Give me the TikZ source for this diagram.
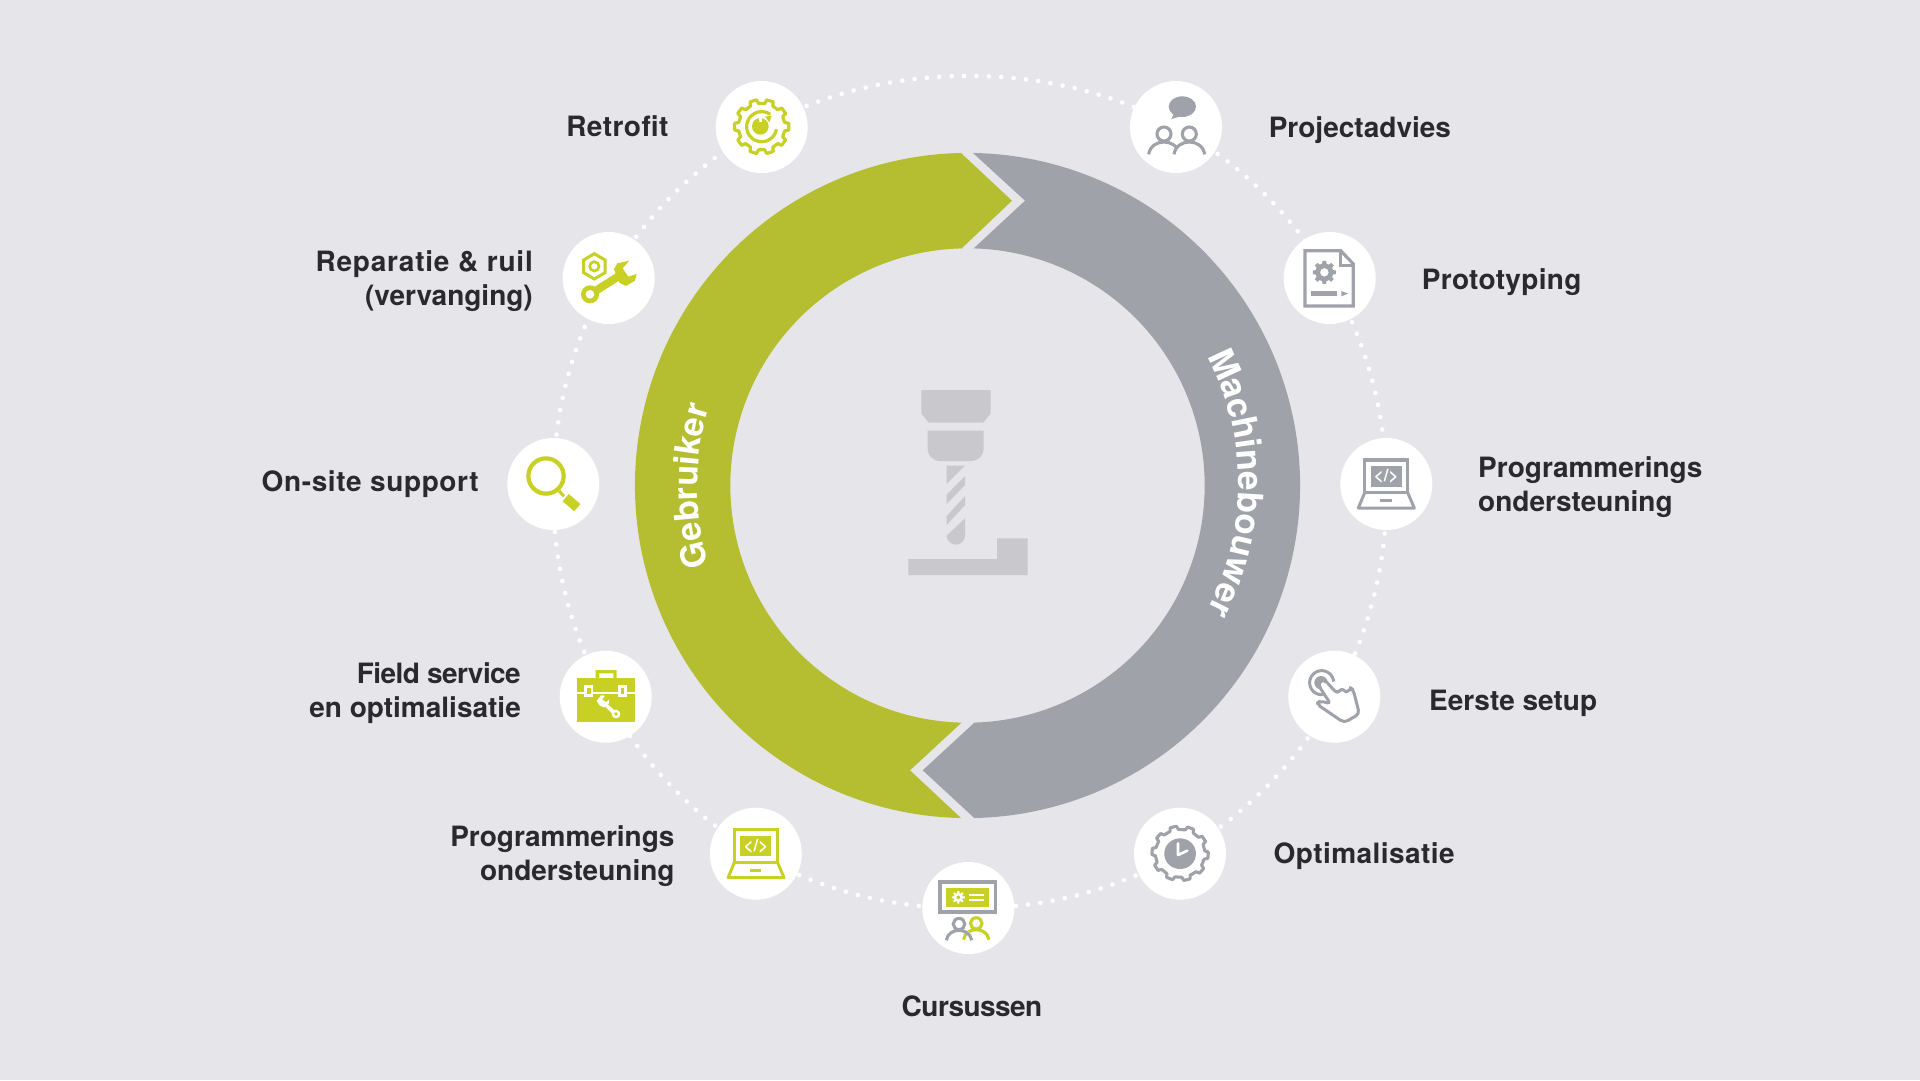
\documentclass[tikz,border=0pt]{standalone}
\usepackage{fontspec}
\setmainfont{TeX Gyre Heros}
\usetikzlibrary{decorations.text}
\definecolor{bgc}{HTML}{E6E6EA}
\definecolor{ringg}{HTML}{B5BD30}
\definecolor{ringy}{HTML}{A0A2AA}
\definecolor{icg}{HTML}{C8D024}
\definecolor{icy}{HTML}{A0A2AA}
\definecolor{mill}{HTML}{C9C9CD}
\definecolor{txt}{HTML}{2A2A2C}
\pgfdeclarelayer{bg}
\pgfsetlayers{bg,main}
\newcommand{\ls}[2]{{\addfontfeature{LetterSpace=#1}#2}}
\tikzset{
  x=1pt,y=-1pt,
  disc/.style={circle,fill=white,minimum size=92pt,inner sep=0pt},
  lab/.style={font=\fontsize{28}{34}\selectfont\bfseries,text=txt,inner sep=0pt},
  dots/.style={white,line width=4.6pt,line cap=round,dash pattern=on 0pt off 12.4pt,looseness=0.87},
  za/.style={shift={(#1)},scale=1/3},
  ln/.style={line width=3.2pt,line join=miter,fill=none},
  code/.style={font=\fontsize{17}{17}\selectfont\bfseries,text=white,inner sep=0pt},
}
\newcommand{\laptop}[1]{% colour; local coordinates of the right-hand laptop
  \draw[#1,ln] (284,120) rectangle (413,218);
  \fill[#1] (302,138) rectangle (395,200);
  \draw[#1,line width=3pt,line join=round] (284,218) -- (265,264) -- (433,264) -- (413,218);
  \fill[#1] (330,237) rectangle (365,247);
  \node[code] (code#1) at (348.5,170) {</>};
}
\newcommand{\person}[3]{% x, y of head, colour
  \draw[#3,line width=3.1pt] (#1,#2) circle (21);
  \draw[#3,line width=3.1pt] ({#1-46},{#2+61}) .. controls ({#1-42},{#2+35}) and ({#1-20},{#2+24}) .. (#1,{#2+24}) .. controls ({#1+20},{#2+24}) and ({#1+42},{#2+35}) .. ({#1+46},{#2+61});
}
\begin{document}
\begin{tikzpicture}
\useasboundingbox (0,0) rectangle (1920,1080);

% ---------- icon discs
\node[disc] (retro) at (761.7,127) {};
\node[disc] (proj)  at (1176,127) {};
\node[disc] (proto) at (1329.7,278) {};
\node[disc] (progr) at (1386.3,484) {};
\node[disc] (setup) at (1334.3,696.7) {};
\node[disc] (optim) at (1180,853.7) {};
\node[disc] (curs)  at (968.3,908) {};
\node[disc] (progl) at (755.8,853.7) {};
\node[disc] (field) at (605.7,696.7) {};
\node[disc] (site)  at (553.3,484) {};
\node[disc] (rep)   at (608.7,278) {};

\begin{pgfonlayer}{bg}
  \fill[bgc] (0,0) rectangle (1920,1080);
  \draw[dots] (retro.center) to[bend left=29] (proj.center);
  \draw[dots] (proj.center)  to[bend left=15] (proto.center);
  \draw[dots] (proto.center) to[bend left=14.8] (progr.center);
  \draw[dots] (progr.center) to[bend left=15.2] (setup.center);
  \draw[dots] (setup.center) to[bend left=15.3] (optim.center);
  \draw[dots] (optim.center) to[bend left=15.2] (curs.center);
  \draw[dots] (curs.center)  to[bend left=15.2] (progl.center);
  \draw[dots] (progl.center) to[bend left=15.1] (field.center);
  \draw[dots] (field.center) to[bend left=15.2] (site.center);
  \draw[dots] (site.center)  to[bend left=14.8] (rep.center);
  \draw[dots] (rep.center)   to[bend left=15] (retro.center);
\end{pgfonlayer}

% ---------- ring
\fill[ringg] (961,153) -- plot[domain=268.9:91.1,samples=120] ({967.5+332.6*cos(\x)},{485.5+332.6*sin(\x)})
  -- (961,818) -- (910,770.3) -- (961.5,722.7)
  -- plot[domain=91.5:268.5,samples=120] ({967.5+237.2*cos(\x)},{485.5+237.2*sin(\x)})
  -- (961,249) -- (1012,200.7) -- cycle;
\fill[ringy] (973,153) -- plot[domain=-89:89,samples=120] ({967.5+332.6*cos(\x)},{485.5+332.6*sin(\x)})
  -- (974.3,818) -- (922.7,770.3) -- (974.3,722.7)
  -- plot[domain=88.5:-88.5,samples=120] ({967.5+237.2*cos(\x)},{485.5+237.2*sin(\x)})
  -- (973,249) -- (1025,200.7) -- cycle;
\path[decorate,decoration={text along path,text align=center,
   text={|\fontsize{35}{35}\selectfont\bfseries\color{white}|Machinebouwer}}]
   plot[domain=-35:35,samples=80] ({967.5+271*cos(\x)},{483.5+271*sin(\x)});
\path[decorate,decoration={text along path,text align=center,
   text={|\fontsize{34}{34}\selectfont\bfseries\color{white}|Gebruiker}}]
   plot[domain=155:205,samples=80] ({967.5+270*cos(\x)},{486+270*sin(\x)});

% ---------- centre machine
\begin{scope}[za={880,370}]
  \fill[mill] (124,60) -- (332,60) -- (332,130) -- (310,158) -- (146,158) -- (124,130) -- cycle;
  \fill[mill] (143,182) -- (311,182) -- (311,235) .. controls (311,258) and (295,273) .. (272,273) -- (182,273) .. controls (159,273) and (143,258) .. (143,235) -- cycle;
  \fill[mill] (200,287) -- (255,287) -- (200,342) -- cycle;
  \fill[mill] (255,318) -- (255,345) -- (200,402) -- (200,374) -- cycle;
  \fill[mill] (255,378) -- (255,405) -- (200,465) -- (200,438) -- cycle;
  \fill[mill] (255,445) -- (255,497) .. controls (255,512) and (243,524) .. (228,524) .. controls (213,524) and (200,512) .. (200,497) -- cycle;
  \fill[mill] (85,567) -- (351,567) -- (351,505) -- (443,505) -- (443,615) -- (85,615) -- cycle;
\end{scope}

% ---------- Retrofit icon
\begin{scope}[za={540,60}]
  \draw[icg,line width=3.2pt,line join=round,shift={(665,200)}] (-10:70)
    \foreach \a in {0,36,...,324} { -- ({\a-10.5}:70) -- ({\a-7}:82) -- ({\a+7}:82) -- ({\a+10.5}:70) } -- cycle;
  \draw[icg,line width=3.2pt] plot[domain=-55:-350,samples=50] ({665+45*cos(\x)},{200+45*sin(\x)});
  \fill[icg] (661,199) circle (25);
  \draw[white,line width=2.4pt] (661,165) -- (661,186);
  \fill[icg] (675,170) -- (695,167) -- (688,187) -- cycle;
% ---------- Reparatie icon
  \draw[icg,line width=3pt,line join=miter] (163,581) -- (195,600) -- (195,638) -- (163,657) -- (131,638) -- (131,600) -- cycle;
  \draw[icg,line width=2.7pt] (163,619) circle (14);
  \fill[icg] (150,703) circle (27);
  \draw[icg,line width=8pt] (150,703) -- (250,640);
  \fill[icg] (222,628) -- (232,610) -- (268,602) -- (248,625) -- (265,650) -- (290,642) -- (285,662) -- (258,678) -- (238,668) -- cycle;
  \fill[white] (150,703) circle (13);
\end{scope}

% ---------- On-site icon, Field service icon
\begin{scope}[za={490,420}]
  \draw[icg,line width=4.2pt] (168,168) circle (53);
  \draw[icg,line width=3pt] (207,213) -- (222,229);
  \draw[icg,line width=9.5pt] (227,233) -- (262,263);
  \fill[icg] (262,775) rectangle (434,905);
  \fill[icg,even odd rule] (317,750) rectangle (380,780) (327,760) rectangle (370,780);
  \fill[white] (262,815) rectangle (434,822);
  \fill[white] (282,795) rectangle (310,830);
  \fill[white] (383,795) rectangle (412,830);
  \fill[icg] (291,804) rectangle (302,821);
  \fill[icg] (392,804) rectangle (403,821);
  \draw[white,line width=3.6pt] (338,845) -- (372,878);
  \fill[white] (378,882) circle (13);
  \fill[icg] (378,882) circle (5.5);
  \fill[white] (320,843) -- (333,826) -- (345,827) -- (337,838) -- (347,848) -- (358,838) -- (356,852) -- (342,862) -- (330,857) -- cycle;
\end{scope}

% ---------- Projectadvies icon, Prototyping icon
\begin{scope}[za={1100,60}]
  \fill[icy] (247,140) ellipse (41 and 31);
  \fill[icy] (222,160) -- (214,177) -- (245,168) -- cycle;
  \person{192}{222}{icy}
  \draw[white,line width=5pt] (235,300) -- (235,260);
  \person{268}{222}{icy}
  \draw[icy,ln] (615,572) -- (722,572) -- (760,612) -- (760,738) -- (615,738) -- cycle;
  \draw[icy,line width=2.8pt] (722,572) -- (722,617) -- (760,617);
  \fill[icy,even odd rule,shift={(673,637)}] (-14:27)
    \foreach \a in {0,45,...,315} { -- ({\a-14}:27) -- ({\a-9}:35) -- ({\a+9}:35) -- ({\a+14}:27) } -- cycle (0,0) circle (13);
  \fill[icy] (633,692) rectangle (712,708);
  \fill[icy] (724,693) -- (744,701) -- (724,709) -- cycle;
\end{scope}

% ---------- Programmerings right, Eerste setup
\begin{scope}[za={1270,420}]
  \laptop{icy}
  \draw[icy,line width=3pt] plot[domain=-5:-280,samples=50] ({155+36*cos(\x)},{788+36*sin(\x)});
  \fill[icy] (153,788) circle (20);
  \draw[icy,fill=white,line width=3pt,line join=round,rounded corners=4pt] (148,785) -- (162,778) -- (203,822) -- (216,802) -- (230,822) -- (240,802) -- (250,810) -- (268,882) -- (222,908) -- (140,852) -- (150,842) -- (182,852) -- (146,797) -- cycle;
\end{scope}

% ---------- bottom icons
\begin{scope}[za={639.75,789.67}]
  \laptop{icg}
\end{scope}
\begin{scope}[shift={(700,790)},xscale=0.3444,yscale=0.3333]
  % Cursussen
  \draw[icy,line width=3.2pt] (697,276) rectangle (857,366);
  \fill[icg] (714,294) rectangle (840,350);
  \fill[white,even odd rule,shift={(750,322)}] (-14:13)
    \foreach \a in {0,45,...,315} { -- ({\a-14}:13) -- ({\a-9}:19) -- ({\a+9}:19) -- ({\a+14}:13) } -- cycle (0,0) circle (6);
  \fill[white] (780,313) rectangle (825,319);
  \fill[white] (780,327) rectangle (825,333);
  \begin{scope}[shift={(802,400)},scale=0.8]
    \person{0}{0}{icg}
  \end{scope}
  \begin{scope}[shift={(752,402)},scale=0.8]
    \draw[white,line width=3pt] (46,61) .. controls (42,35) and (20,20) .. (0,20);
    \person{0}{0}{icy}
  \end{scope}
  % Optimalisatie
  \draw[icy,line width=3.1pt,line join=round,shift={(1394,190)}] (-6:72)
    \foreach \a in {4,40,...,328} { -- ({\a-10}:72) -- ({\a-6.5}:82) -- ({\a+6.5}:82) -- ({\a+10}:72) } -- cycle;
  \fill[icy] (1394,191) circle (46);
  \draw[white,line width=2.6pt,line cap=round,line join=round] (1388,160) -- (1388,195) -- (1415,182);
\end{scope}

% ---------- labels
\node[lab,anchor=base east] (lretro) at (668.6,136.7) {\ls{1.6}{Retrofit}};
\node[lab,anchor=east,align=right] (lrep) at (533,281.5) {\ls{2.8}{Reparatie \& ruil}\\(vervanging)};
\node[lab,anchor=base east] (lsite) at (478.8,491) {\ls{2.2}{On-site support}};
\node[lab,anchor=east,align=right] (lfield) at (521,693.5) {\ls{-2}{Field service}\\en optimalisatie};
\node[lab,anchor=east,align=right] (lprogl) at (674.7,856) {Programmerings\\ondersteuning};
\node[lab,anchor=base] (lcurs) at (972,1016.5) {\ls{-1.9}{Cursussen}};
\node[lab,anchor=base west] (loptim) at (1273.5,863.5) {\ls{1.6}{Optimalisatie}};
\node[lab,anchor=base west] (lsetup) at (1429,710) {Eerste setup};
\node[lab,anchor=west,align=left] (lprogr) at (1478,487.5) {Programmerings\\ondersteuning};
\node[lab,anchor=base west] (lproto) at (1421.6,289) {\ls{1.2}{Prototyping}};
\node[lab,anchor=base west] (lproj) at (1268.6,137.7) {Projectadvies};
\end{tikzpicture}
\end{document}
